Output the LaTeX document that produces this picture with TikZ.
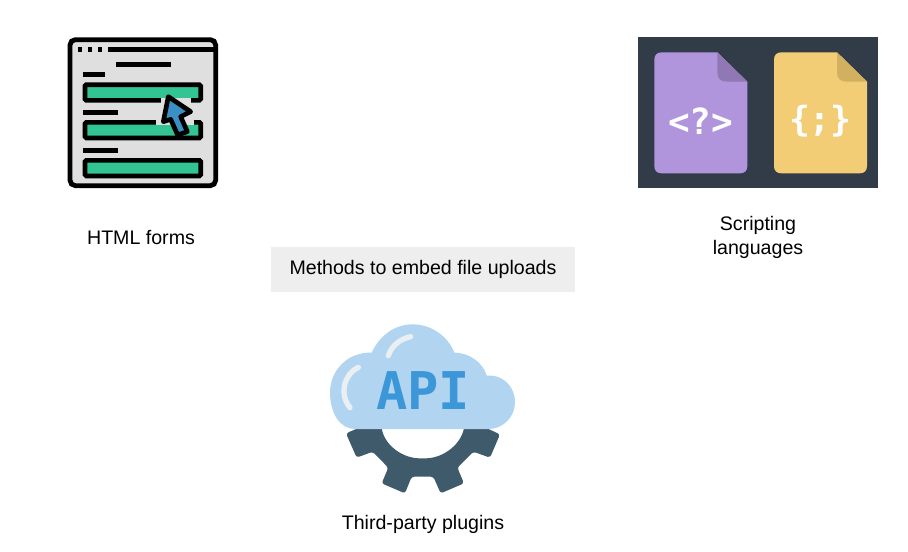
\documentclass[tikz,border=0pt]{standalone}
\usepackage{fontspec}
\setmainfont{Liberation Sans}
\newfontfamily\apifont{DejaVu Sans Mono}[BoldFont={* Bold}]
\usetikzlibrary{positioning}
\definecolor{panel}{RGB}{50,60,72}
\definecolor{lilac}{RGB}{176,148,220}
\definecolor{lilacfold}{RGB}{143,120,180}
\definecolor{butter}{RGB}{243,205,117}
\definecolor{butterfold}{RGB}{209,176,95}
\definecolor{formgrey}{RGB}{223,223,223}
\definecolor{formgreen}{RGB}{50,196,146}
\definecolor{pointer}{RGB}{58,143,196}
\definecolor{cloud}{RGB}{177,212,240}
\definecolor{apiblue}{RGB}{59,151,216}
\definecolor{gleam}{RGB}{233,239,242}
\definecolor{gear}{RGB}{63,90,107}
\definecolor{labelbg}{RGB}{238,238,238}
\tikzset{
  caption/.style={font=\fontsize{14.7}{18}\selectfont,align=center,text=black},
  icon/.style={x=0.25pt,y=-0.25pt},
  formline/.style={line width=3.5pt,draw=black},
  inputbar/.style={line width=3.5pt,draw=black,fill=formgreen,rounded corners=1pt}
}

\begin{document}
\begin{tikzpicture}[x=0.75pt,y=-0.75pt]
\useasboundingbox (0,0) rectangle (908,551);
% form window
\begin{scope}[shift={(50,20)},icon]
\draw[line width=3.6pt,fill=formgrey,rounded corners=4pt] (60,59) rectangle (497,497);
\foreach \x in {83,113,143} \fill (\x,82) rectangle (\x+14,96);
\fill (174,82) rectangle (497,96);
\fill (197,127) rectangle (362,142);
\fill (98,157) rectangle (166,172);
\fill (98,271) rectangle (204,286);
\fill (98,384) rectangle (204,399);
% input bars
\foreach \y in {194,307,421} \draw[inputbar] (105,\y) rectangle (452,\y+47);
\fill[formgrey] (333,234) rectangle (422,250);
\fill[formgrey] (317,298) rectangle (432,314);
\fill[formgreen] (400,314) rectangle (445,340);
% mouse pointer
\draw[line width=3.5pt,fill=pointer,line join=round] (355,230)--(422,275)--(392,290)--(412,335)
  --(383,345)--(362,298)--(340,305)--cycle;
\end{scope}
% script files
\begin{scope}[shift={(625,25)},icon]
\fill[panel] (38,37) rectangle (760,490);
\foreach \x/\body/\fold in {0/lilac/lilacfold,359/butter/butterfold} {
  \fill[\body] (\x+277,82)--(\x+367,170)--(\x+367,423)
    .. controls (\x+367,437) and (\x+359,445) .. (\x+345,445)--(\x+110,445)
    .. controls (\x+96,445) and (\x+88,437) .. (\x+88,423)--(\x+88,104)
    .. controls (\x+88,90) and (\x+96,82) .. (\x+110,82)--cycle;
  \fill[\fold] (\x+277,82)--(\x+367,170)--(\x+305,170)
    .. controls (\x+287,170) and (\x+277,160) .. (\x+277,142)--cycle;
}
\node[font=\apifont\bfseries\fontsize{27}{27}\selectfont,text=white,inner sep=0pt] (phptag) at (227,289) {<?>};
\node[font=\apifont\bfseries\fontsize{26}{26}\selectfont,text=white,inner sep=0pt] (jsbrace) at (586,289) {\{;\}};
\end{scope}
% api cloud on a gear
\begin{scope}[shift={(320,315)},icon]
\fill[gear,rounded corners=2pt] (78,355)--(110,428)--(158,410)--(205,458)--(185,505)--(255,535)
  --(275,485)--(340,485)--(362,535)--(432,505)--(412,458)--(460,410)--(510,428)--(540,358)--(490,335)
  --(432,335)--(432,342) .. controls (415,395) and (365,430) .. (308,430)
  .. controls (250,430) and (200,395) .. (185,342)--(185,335)--(125,335)--cycle;
\fill[cloud] (105,342) .. controls (60,342) and (30,295) .. (30,232)
  .. controls (30,165) and (85,110) .. (155,113)
  .. controls (180,60) and (225,28) .. (278,28)
  .. controls (335,28) and (385,65) .. (403,113)
  .. controls (450,113) and (490,145) .. (500,182)
  .. controls (550,178) and (585,215) .. (585,262)
  .. controls (585,305) and (550,342) .. (505,342)--cycle;
\draw[gleam,line width=4pt,line cap=round] (272,65) .. controls (240,72) and (215,92) .. (205,122);
\draw[gleam,line width=4pt,line cap=round] (115,157) .. controls (75,175) and (55,235) .. (90,278);
\node[font=\apifont\bfseries\fontsize{39}{39}\selectfont,text=apiblue,inner sep=0pt] (apitext) at (309,228) {API};
\end{scope}
% labels
\node[caption] (forms) at (141,237) {HTML forms};
\node[caption] (scripting) at (758,237) {Scripting\\languages};
\node[caption,fill=labelbg,minimum width=228pt,minimum height=33.75pt,inner sep=0pt] (methods) at (423,269.5) {Methods to embed file uploads};
\node[caption] (plugins) at (423,524) {Third-party plugins};
\end{tikzpicture}
\end{document}
